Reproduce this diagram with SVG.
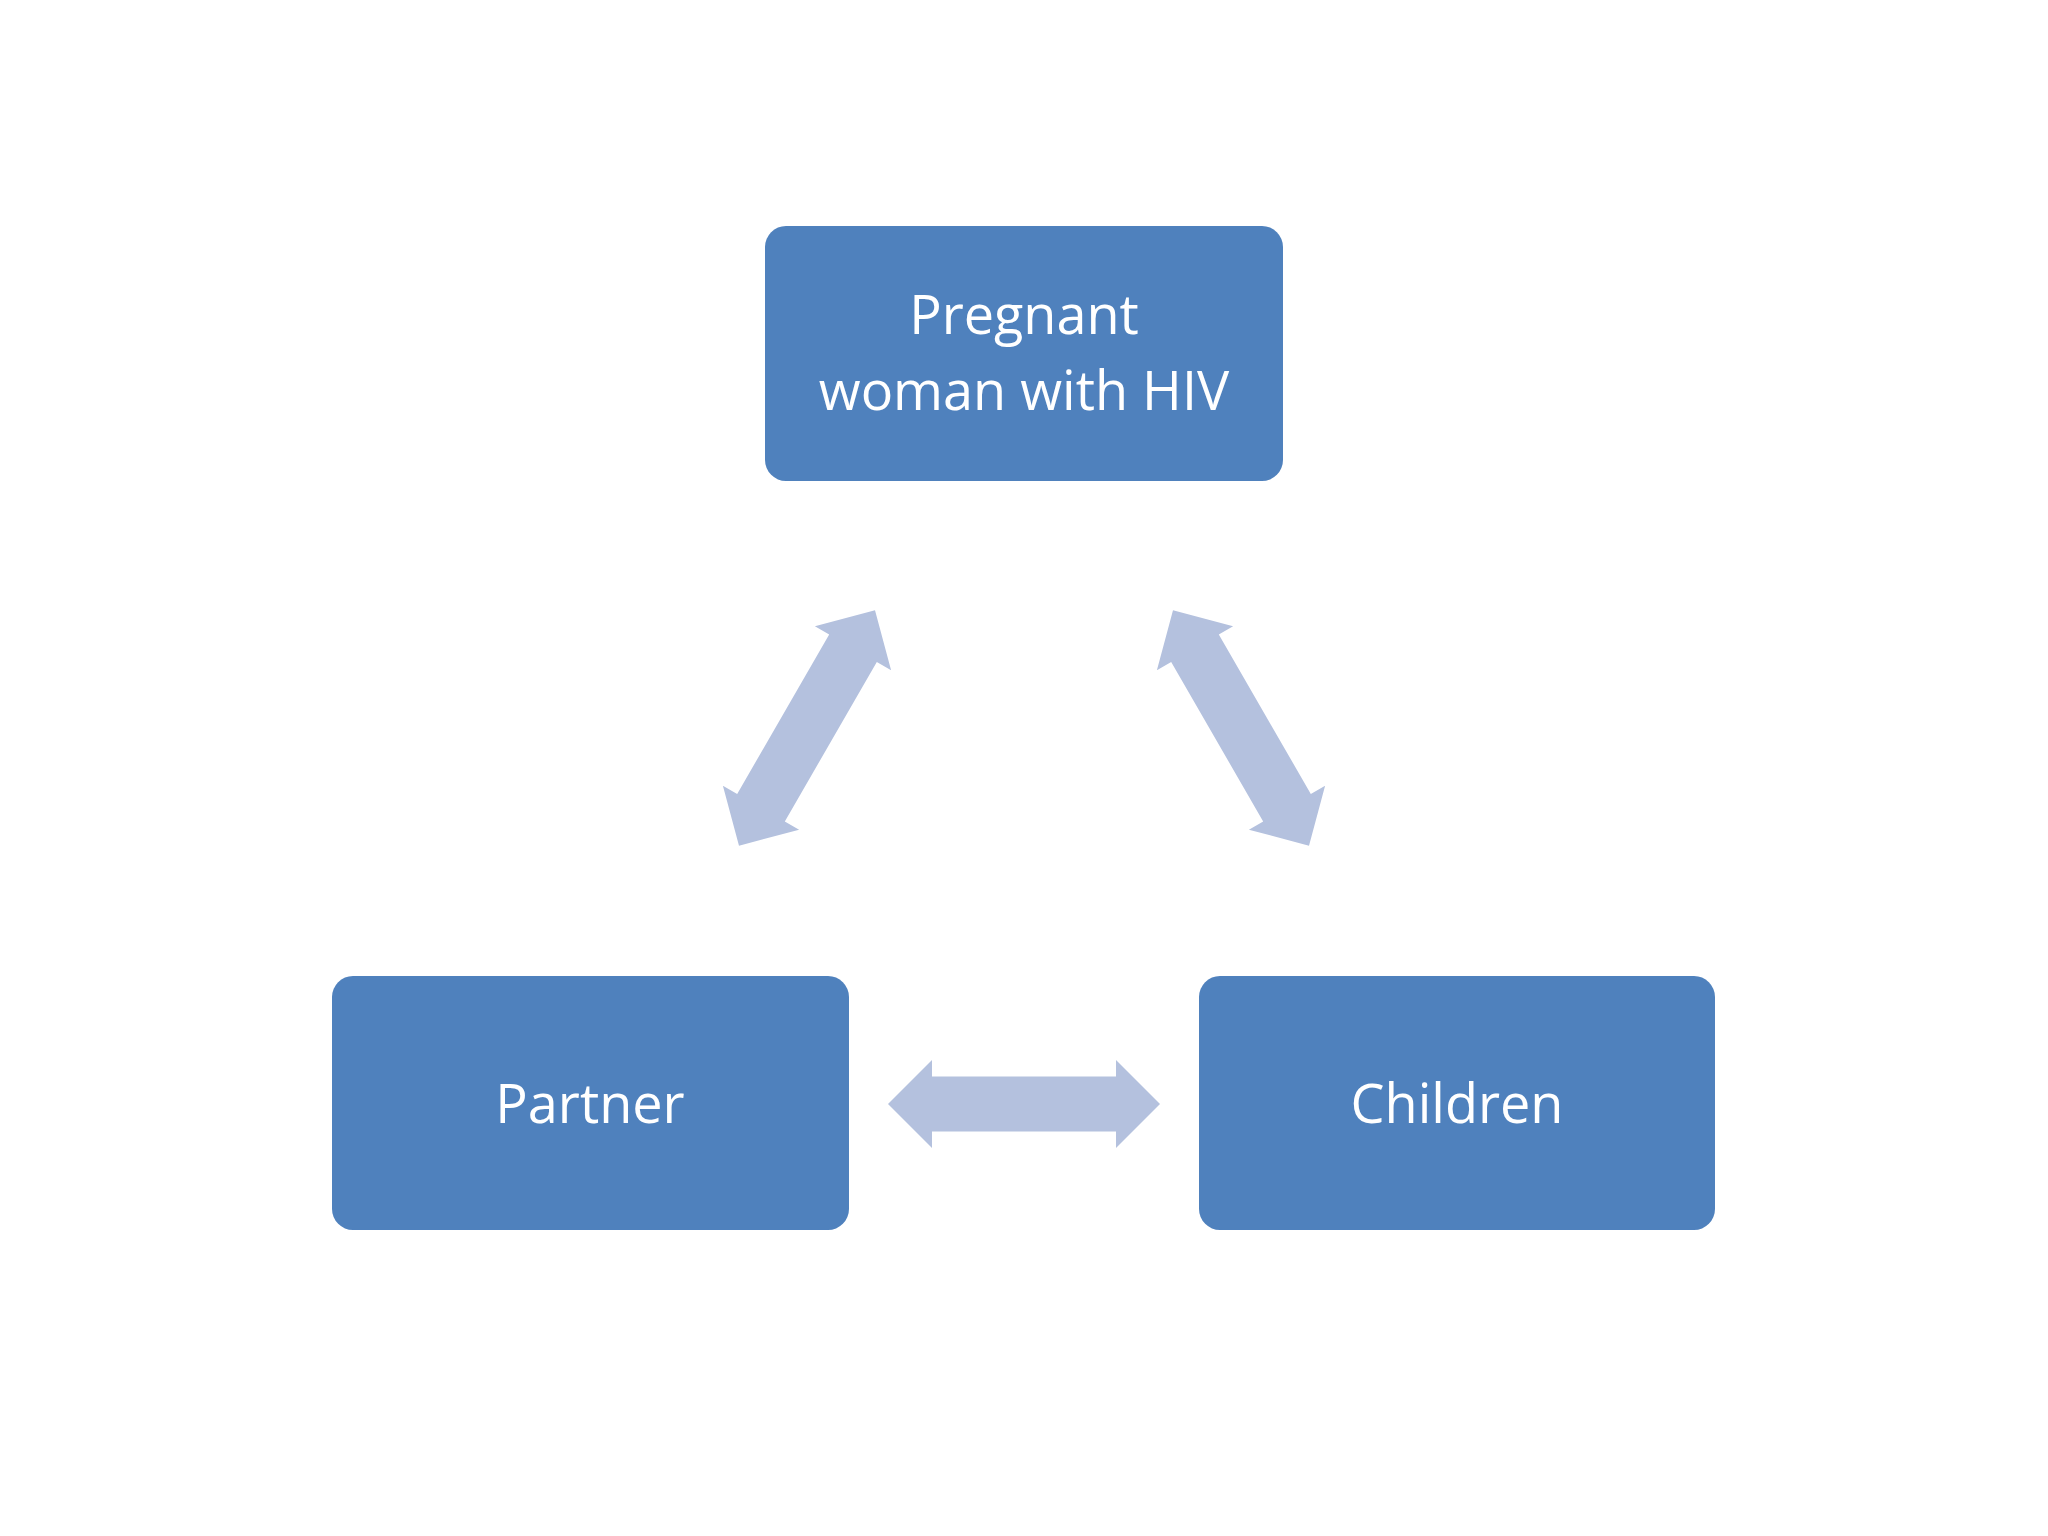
<svg xmlns="http://www.w3.org/2000/svg" width="2048" height="1536" viewBox="0 0 2048 1536">
<style>
.box{fill:#4F81BD}
.t{font-family:"Open Sans","Noto Sans",sans-serif;font-size:54px;fill:#fff;text-anchor:middle}
.arr{fill:#B4C1DE}
</style>
<defs><path id="a" d="M -136 0 L -92 -44 L -92 -27.5 L 92 -27.5 L 92 -44 L 136 0 L 92 44 L 92 27.5 L -92 27.5 L -92 44 Z"/></defs>
<rect width="2048" height="1536" fill="#fff"/>
<g id="connectors" class="arr">
<use href="#a" transform="translate(1024,1104)"/>
<use href="#a" transform="translate(807,728) rotate(-60)"/>
<use href="#a" transform="translate(1241,728) rotate(60)"/>
</g>
<g id="top"><rect class="box" x="765" y="226" width="518" height="255" rx="21"/>
<text class="t" x="1024" y="334">Pregnant</text><text class="t" x="1024" y="410">woman with HIV</text></g>
<g id="partner"><rect class="box" x="332" y="976" width="517" height="254" rx="21"/>
<text class="t" x="590" y="1123">Partner</text></g>
<g id="children"><rect class="box" x="1199" y="976" width="516" height="254" rx="21"/>
<text class="t" x="1457" y="1123">Children</text></g>
</svg>
